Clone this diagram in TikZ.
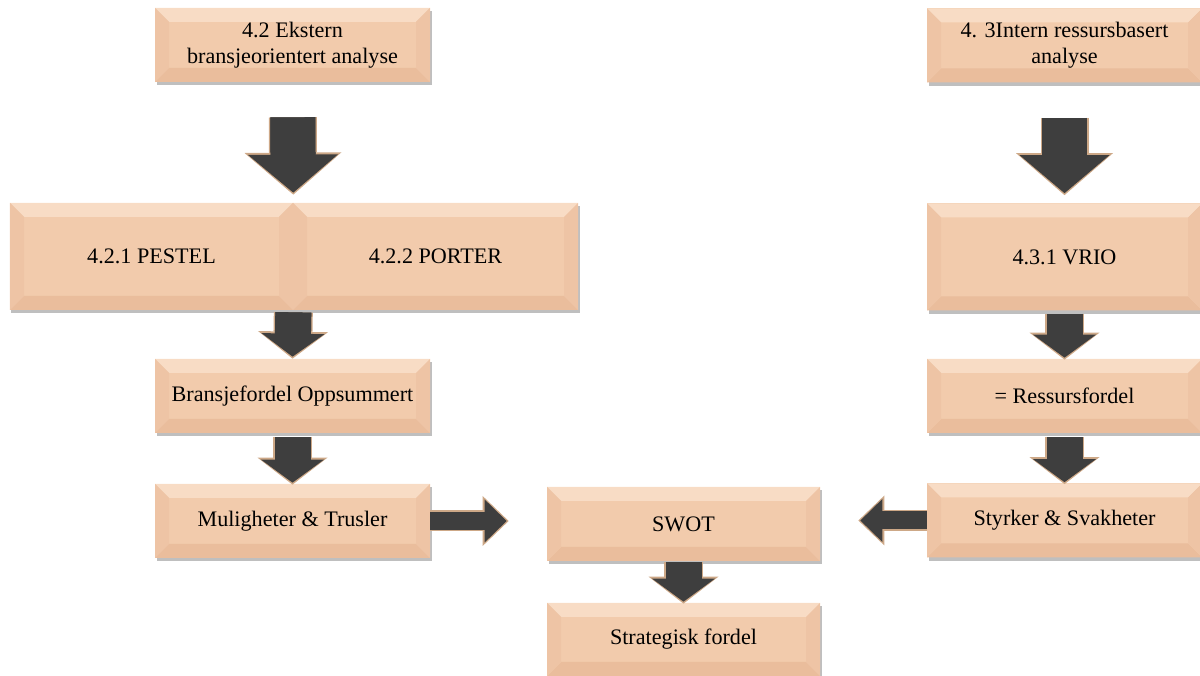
\documentclass[tikz,border=0pt]{standalone}
\usepackage{fontspec}
\setmainfont{Liberation Serif}
\usetikzlibrary{arrows.meta,shadows}

\definecolor{peach}{RGB}{242,203,172}
\definecolor{peachtop}{RGB}{248,220,197}
\definecolor{peachbottom}{RGB}{234,189,156}
\definecolor{peachside}{RGB}{238,196,165}
\definecolor{arrowdark}{RGB}{62,62,62}
\definecolor{arrowtan}{RGB}{205,168,135}

\newcommand{\boxfont}{\fontsize{12.6}{15}\selectfont}
\newcommand{\bevdepth}{0.28cm}

\tikzset{
  bevelbox/.style={rectangle, fill=peach, align=center, font=\boxfont,
    inner sep=0pt, minimum width=5.5cm, minimum height=1.48cm,
    drop shadow={shadow xshift=0.03cm, shadow yshift=-0.07cm, fill=black, opacity=0.25},
    path picture={
      \path (path picture bounding box.south west) coordinate (bbsw)
            (path picture bounding box.north east) coordinate (bbne)
            (path picture bounding box.north west) coordinate (bbnw)
            (path picture bounding box.south east) coordinate (bbse);
      \fill[peachtop] (bbnw) -- (bbne) -- ([shift={(-\bevdepth,-\bevdepth)}]bbne) -- ([shift={(\bevdepth,-\bevdepth)}]bbnw) -- cycle;
      \fill[peachbottom] (bbsw) -- (bbse) -- ([shift={(-\bevdepth,\bevdepth)}]bbse) -- ([shift={(\bevdepth,\bevdepth)}]bbsw) -- cycle;
      \fill[peachside] (bbnw) -- (bbsw) -- ([shift={(\bevdepth,\bevdepth)}]bbsw) -- ([shift={(\bevdepth,-\bevdepth)}]bbnw) -- cycle;
      \fill[peachside] (bbne) -- (bbse) -- ([shift={(-\bevdepth,\bevdepth)}]bbse) -- ([shift={(-\bevdepth,-\bevdepth)}]bbne) -- cycle;
    }},
  tallbox/.style={minimum height=2.14cm},
  % fat arrows: tan rim, dark shaft under the joint, then shaft and head
  bigarrow/.style={
    preaction={draw=arrowtan, line width=0.96cm, shorten >=#1-0.04cm,
      -{Triangle[width=1.94cm, length=0.84cm, line width=0pt]}},
    preaction={draw=arrowdark, line width=0.9cm, shorten >=#1+0.62cm, -},
    draw=arrowdark, line width=0.9cm, shorten >=#1,
    -{Triangle[width=1.8cm, length=0.76cm, line width=0pt]}},
  bigarrow/.default=0cm,
  smallarrow/.style={
    preaction={draw=arrowtan, line width=0.78cm, shorten >=#1-0.04cm,
      -{Triangle[width=1.4cm, length=0.54cm, line width=0pt]}},
    preaction={draw=arrowdark, line width=0.72cm, shorten >=#1+0.34cm, -},
    draw=arrowdark, line width=0.72cm, shorten >=#1,
    -{Triangle[width=1.26cm, length=0.46cm, line width=0pt]}},
  smallarrow/.default=0cm,
  sidearrow/.style={
    preaction={draw=arrowtan, line width=0.42cm, shorten >=#1-0.04cm,
      -{Triangle[width=1.0cm, length=0.52cm, line width=0pt]}},
    preaction={draw=arrowdark, line width=0.36cm, shorten >=#1+0.34cm, -},
    draw=arrowdark, line width=0.36cm, shorten >=#1,
    -{Triangle[width=0.86cm, length=0.44cm, line width=0pt]}},
  sidearrow/.default=0cm
}

\begin{document}
\begin{tikzpicture}
\useasboundingbox (0,0) rectangle (24,13.52);

%Nodes
\node[bevelbox] (nodeEkstern) at (5.85,12.62) {4.2 Ekstern\\bransjeorientert analyse};

\node[bevelbox, tallbox, minimum width=5.66cm] (nodePestel) at (3.03,8.39) {4.2.1 PESTEL};
\node[bevelbox, tallbox, minimum width=5.7cm] (nodePorter) at (8.71,8.39) {4.2.2 PORTER};

\node[bevelbox] (nodeBransje) at (5.85,5.6) {Bransjefordel Oppsummert};

\node[bevelbox] (nodeMulig) at (5.85,3.1) {Muligheter \& Trusler};

\node[bevelbox, minimum width=5.46cm] (nodeSwot) at (13.67,3.04) {SWOT};

\node[bevelbox, minimum width=5.46cm, minimum height=1.46cm] (nodeStrategisk) at (13.67,0.73) {Strategisk fordel};

\node[bevelbox] (nodeIntern) at (21.29,12.61) {4. 3Intern ressursbasert\\analyse};

\node[bevelbox, tallbox] (nodeVrio) at (21.29,8.38) {4.3.1 VRIO};

\node[bevelbox] (nodeRessurs) at (21.29,5.6) {= Ressursfordel};

\node[bevelbox] (nodeStyrker) at (21.29,3.11) {Styrker \& Svakheter};

%Lines
\draw[bigarrow=0.2cm, shorten <=0.7cm] (nodeEkstern.south) -- (nodePestel.north east);
\draw[bigarrow=0.2cm, shorten <=0.7cm] (nodeIntern) -- (nodeVrio);

\draw[smallarrow=0.04cm, shorten <=0.04cm] (nodePestel.south east) -- (nodeBransje.north);
\draw[smallarrow=0.02cm, shorten <=0.08cm] (nodeBransje) -- (nodeMulig);

\draw[smallarrow=0.02cm, shorten <=0.06cm] (nodeVrio) -- (nodeRessurs);
\draw[smallarrow=0.02cm, shorten <=0.08cm] (nodeRessurs) -- (nodeStyrker);

\draw[smallarrow=0.02cm, shorten <=0.02cm] (nodeSwot) -- (nodeStrategisk);

\draw[sidearrow=0.8cm] (nodeMulig.east) -- (nodeMulig.east -| nodeSwot.west);
\draw[sidearrow=0.8cm] (nodeStyrker.west) -- (nodeStyrker.west -| nodeSwot.east);
\end{tikzpicture}
\end{document}
